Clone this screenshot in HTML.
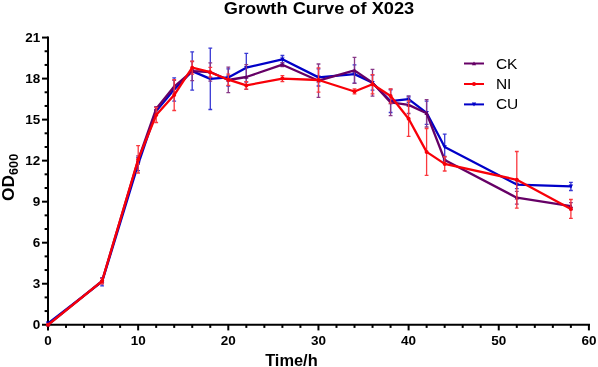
<!DOCTYPE html>
<html><head><meta charset="utf-8"><title>Growth Curve of X023</title>
<style>
html,body{margin:0;padding:0;background:#fff;}
svg{display:block;will-change:transform;font-family:"Liberation Sans",Arial,sans-serif;font-weight:bold;fill:#000;}
</style></head><body>
<svg width="598" height="367" viewBox="0 0 598 367">
<rect width="598" height="367" fill="#fff"/>
<text x="319" y="14.4" font-size="17" text-anchor="middle" textLength="190.5" lengthAdjust="spacingAndGlyphs">Growth Curve of X023</text>
<g stroke="#000" stroke-width="2" fill="none" stroke-linecap="butt">
<path d="M48 36.5V325.8"/>
<path d="M47 324.8H590"/>
<path d="M42 324.75H48"/><path d="M44.6 311.07H48"/><path d="M44.6 297.40H48"/><path d="M42 283.73H48"/><path d="M44.6 270.05H48"/><path d="M44.6 256.38H48"/><path d="M42 242.70H48"/><path d="M44.6 229.02H48"/><path d="M44.6 215.35H48"/><path d="M42 201.68H48"/><path d="M44.6 188.00H48"/><path d="M44.6 174.32H48"/><path d="M42 160.65H48"/><path d="M44.6 146.97H48"/><path d="M44.6 133.30H48"/><path d="M42 119.62H48"/><path d="M44.6 105.95H48"/><path d="M44.6 92.27H48"/><path d="M42 78.60H48"/><path d="M44.6 64.93H48"/><path d="M44.6 51.25H48"/><path d="M42 37.57H48"/>
<path d="M48.00 324.8V330.4"/><path d="M66.03 324.8V327.9"/><path d="M84.06 324.8V327.9"/><path d="M102.09 324.8V327.9"/><path d="M120.12 324.8V327.9"/><path d="M138.15 324.8V330.4"/><path d="M156.18 324.8V327.9"/><path d="M174.21 324.8V327.9"/><path d="M192.24 324.8V327.9"/><path d="M210.27 324.8V327.9"/><path d="M228.30 324.8V330.4"/><path d="M246.33 324.8V327.9"/><path d="M264.36 324.8V327.9"/><path d="M282.39 324.8V327.9"/><path d="M300.42 324.8V327.9"/><path d="M318.45 324.8V330.4"/><path d="M336.48 324.8V327.9"/><path d="M354.51 324.8V327.9"/><path d="M372.54 324.8V327.9"/><path d="M390.57 324.8V327.9"/><path d="M408.60 324.8V330.4"/><path d="M426.63 324.8V327.9"/><path d="M444.66 324.8V327.9"/><path d="M462.69 324.8V327.9"/><path d="M480.72 324.8V327.9"/><path d="M498.75 324.8V330.4"/><path d="M516.78 324.8V327.9"/><path d="M534.81 324.8V327.9"/><path d="M552.84 324.8V327.9"/><path d="M570.87 324.8V327.9"/><path d="M588.90 324.8V330.4"/>
</g>
<g font-size="13.5">
<text x="40.3" y="329.1" text-anchor="end">0</text><text x="40.3" y="288.1" text-anchor="end">3</text><text x="40.3" y="247.1" text-anchor="end">6</text><text x="40.3" y="206.1" text-anchor="end">9</text><text x="40.3" y="165.0" text-anchor="end">12</text><text x="40.3" y="124.0" text-anchor="end">15</text><text x="40.3" y="83.0" text-anchor="end">18</text><text x="40.3" y="42.0" text-anchor="end">21</text>
<text x="48.0" y="344.8" text-anchor="middle">0</text><text x="138.2" y="344.8" text-anchor="middle">10</text><text x="228.3" y="344.8" text-anchor="middle">20</text><text x="318.5" y="344.8" text-anchor="middle">30</text><text x="408.6" y="344.8" text-anchor="middle">40</text><text x="498.8" y="344.8" text-anchor="middle">50</text><text x="588.9" y="344.8" text-anchor="middle">60</text>
</g>
<text x="291.4" y="366.2" font-size="16.4" text-anchor="middle">Time/h</text>
<text transform="translate(13.9,201) rotate(-90) scale(1.055,1)" font-size="16.5">OD<tspan font-size="12" dy="4">600</tspan></text>
<g stroke="#3838d4" stroke-width="1.3" fill="none"><path d="M102.1 277.6V285.8M100.2 277.6h3.8M100.2 285.8h3.8"/><path d="M138.2 157.5V170.6M136.2 157.5h3.8M136.2 170.6h3.8"/><path d="M156.2 107.0V115.2M154.3 107.0h3.8M154.3 115.2h3.8"/><path d="M174.2 77.9V101.2M172.3 77.9h3.8M172.3 101.2h3.8"/><path d="M192.2 51.9V90.2M190.3 51.9h3.8M190.3 90.2h3.8"/><path d="M210.3 48.2V109.5M208.4 48.2h3.8M208.4 109.5h3.8"/><path d="M228.3 68.8V86.0M226.4 68.8h3.8M226.4 86.0h3.8"/><path d="M246.3 53.3V82.0M244.4 53.3h3.8M244.4 82.0h3.8"/><path d="M282.4 55.5V63.1M280.5 55.5h3.8M280.5 63.1h3.8"/><path d="M318.5 68.8V86.0M316.6 68.8h3.8M316.6 86.0h3.8"/><path d="M354.5 64.9V83.2M352.6 64.9h3.8M352.6 83.2h3.8"/><path d="M372.5 75.2V90.2M370.6 75.2h3.8M370.6 90.2h3.8"/><path d="M390.6 89.8V112.5M388.7 89.8h3.8M388.7 112.5h3.8"/><path d="M408.6 96.2V102.3M406.7 96.2h3.8M406.7 102.3h3.8"/><path d="M426.6 101.2V124.4M424.7 101.2h3.8M424.7 124.4h3.8"/><path d="M444.7 134.1V159.8M442.8 134.1h3.8M442.8 159.8h3.8"/><path d="M516.8 180.5V188.7M514.9 180.5h3.8M514.9 188.7h3.8"/><path d="M570.9 182.3V190.5M569.0 182.3h3.8M569.0 190.5h3.8"/></g>
<polyline points="48.0,323.4 102.1,281.7 138.2,164.1 156.2,111.1 174.2,89.5 192.2,71.1 210.3,78.9 228.3,77.4 246.3,67.7 282.4,59.3 318.5,77.4 354.5,74.1 372.5,82.7 390.6,101.2 408.6,99.2 426.6,112.8 444.7,147.0 516.8,184.6 570.9,186.4" fill="none" stroke="#0000c8" stroke-width="2.3" stroke-linejoin="round" stroke-linecap="round"/>
<g fill="#0000c8"><path d="M48.0 325.5l2.2 -3.9h-4.4z"/><path d="M102.1 283.8l2.2 -3.9h-4.4z"/><path d="M138.2 166.2l2.2 -3.9h-4.4z"/><path d="M156.2 113.2l2.2 -3.9h-4.4z"/><path d="M174.2 91.6l2.2 -3.9h-4.4z"/><path d="M192.2 73.2l2.2 -3.9h-4.4z"/><path d="M210.3 81.0l2.2 -3.9h-4.4z"/><path d="M228.3 79.5l2.2 -3.9h-4.4z"/><path d="M246.3 69.8l2.2 -3.9h-4.4z"/><path d="M282.4 61.4l2.2 -3.9h-4.4z"/><path d="M318.5 79.5l2.2 -3.9h-4.4z"/><path d="M354.5 76.2l2.2 -3.9h-4.4z"/><path d="M372.5 84.8l2.2 -3.9h-4.4z"/><path d="M390.6 103.3l2.2 -3.9h-4.4z"/><path d="M408.6 101.3l2.2 -3.9h-4.4z"/><path d="M426.6 114.9l2.2 -3.9h-4.4z"/><path d="M444.7 149.1l2.2 -3.9h-4.4z"/><path d="M516.8 186.7l2.2 -3.9h-4.4z"/><path d="M570.9 188.5l2.2 -3.9h-4.4z"/></g>
<g stroke="#883888" stroke-width="1.3" fill="none"><path d="M102.1 278.3V283.7M100.2 278.3h3.8M100.2 283.7h3.8"/><path d="M138.2 155.9V164.1M136.2 155.9h3.8M136.2 164.1h3.8"/><path d="M156.2 106.6V110.7M154.3 106.6h3.8M154.3 110.7h3.8"/><path d="M174.2 80.4V92.7M172.3 80.4h3.8M172.3 92.7h3.8"/><path d="M192.2 61.5V80.7M190.3 61.5h3.8M190.3 80.7h3.8"/><path d="M210.3 62.9V81.2M208.4 62.9h3.8M208.4 81.2h3.8"/><path d="M228.3 67.2V92.7M226.4 67.2h3.8M226.4 92.7h3.8"/><path d="M246.3 64.7V89.3M244.4 64.7h3.8M244.4 89.3h3.8"/><path d="M282.4 62.6V66.7M280.5 62.6h3.8M280.5 66.7h3.8"/><path d="M318.5 64.0V97.3M316.6 64.0h3.8M316.6 97.3h3.8"/><path d="M354.5 57.4V83.4M352.6 57.4h3.8M352.6 83.4h3.8"/><path d="M372.5 69.3V96.1M370.6 69.3h3.8M370.6 96.1h3.8"/><path d="M390.6 89.1V115.7M388.7 89.1h3.8M388.7 115.7h3.8"/><path d="M408.6 96.2V113.5M406.7 96.2h3.8M406.7 113.5h3.8"/><path d="M426.6 99.7V127.0M424.7 99.7h3.8M424.7 127.0h3.8"/><path d="M444.7 156.5V163.4M442.8 156.5h3.8M442.8 163.4h3.8"/><path d="M516.8 191.3V204.1M514.9 191.3h3.8M514.9 204.1h3.8"/><path d="M570.9 202.6V209.5M569.0 202.6h3.8M569.0 209.5h3.8"/></g>
<polyline points="48.0,324.8 102.1,281.0 138.2,160.0 156.2,108.7 174.2,86.5 192.2,71.1 210.3,72.0 228.3,80.0 246.3,77.0 282.4,64.7 318.5,80.7 354.5,70.4 372.5,82.7 390.6,102.4 408.6,104.9 426.6,113.3 444.7,160.0 516.8,197.7 570.9,206.1" fill="none" stroke="#660066" stroke-width="2.3" stroke-linejoin="round" stroke-linecap="round"/>
<g fill="#660066"><path d="M48.0 322.6l2.2 3.9h-4.4z"/><path d="M102.1 278.9l2.2 3.9h-4.4z"/><path d="M138.2 157.9l2.2 3.9h-4.4z"/><path d="M156.2 106.6l2.2 3.9h-4.4z"/><path d="M174.2 84.4l2.2 3.9h-4.4z"/><path d="M192.2 69.0l2.2 3.9h-4.4z"/><path d="M210.3 69.9l2.2 3.9h-4.4z"/><path d="M228.3 77.9l2.2 3.9h-4.4z"/><path d="M246.3 74.9l2.2 3.9h-4.4z"/><path d="M282.4 62.6l2.2 3.9h-4.4z"/><path d="M318.5 78.6l2.2 3.9h-4.4z"/><path d="M354.5 68.3l2.2 3.9h-4.4z"/><path d="M372.5 80.6l2.2 3.9h-4.4z"/><path d="M390.6 100.3l2.2 3.9h-4.4z"/><path d="M408.6 102.8l2.2 3.9h-4.4z"/><path d="M426.6 111.2l2.2 3.9h-4.4z"/><path d="M444.7 157.9l2.2 3.9h-4.4z"/><path d="M516.8 195.6l2.2 3.9h-4.4z"/><path d="M570.9 204.0l2.2 3.9h-4.4z"/></g>
<g stroke="#fa383e" stroke-width="1.3" fill="none"><path d="M102.1 278.4V283.9M100.2 278.4h3.8M100.2 283.9h3.8"/><path d="M138.2 145.6V173.0M136.2 145.6h3.8M136.2 173.0h3.8"/><path d="M156.2 107.5V122.5M154.3 107.5h3.8M154.3 122.5h3.8"/><path d="M174.2 79.6V110.5M172.3 79.6h3.8M172.3 110.5h3.8"/><path d="M192.2 61.2V74.1M190.3 61.2h3.8M190.3 74.1h3.8"/><path d="M210.3 67.4V77.0M208.4 67.4h3.8M208.4 77.0h3.8"/><path d="M228.3 74.1V85.3M226.4 74.1h3.8M226.4 85.3h3.8"/><path d="M246.3 81.7V89.1M244.4 81.7h3.8M244.4 89.1h3.8"/><path d="M282.4 75.6V81.6M280.5 75.6h3.8M280.5 81.6h3.8"/><path d="M318.5 67.8V92.1M316.6 67.8h3.8M316.6 92.1h3.8"/><path d="M354.5 89.0V93.9M352.6 89.0h3.8M352.6 93.9h3.8"/><path d="M372.5 74.6V93.8M370.6 74.6h3.8M370.6 93.8h3.8"/><path d="M390.6 88.9V103.1M388.7 88.9h3.8M388.7 103.1h3.8"/><path d="M408.6 100.9V136.4M406.7 100.9h3.8M406.7 136.4h3.8"/><path d="M426.6 128.5V175.3M424.7 128.5h3.8M424.7 175.3h3.8"/><path d="M444.7 156.8V171.0M442.8 156.8h3.8M442.8 171.0h3.8"/><path d="M516.8 151.5V208.1M514.9 151.5h3.8M514.9 208.1h3.8"/><path d="M570.9 199.5V218.4M569.0 199.5h3.8M569.0 218.4h3.8"/></g>
<polyline points="48.0,324.8 102.1,281.1 138.2,159.3 156.2,115.0 174.2,95.0 192.2,67.7 210.3,72.2 228.3,79.7 246.3,85.4 282.4,78.6 318.5,80.0 354.5,91.5 372.5,84.2 390.6,96.0 408.6,118.7 426.6,151.9 444.7,163.9 516.8,179.8 570.9,208.9" fill="none" stroke="#f80008" stroke-width="2.3" stroke-linejoin="round" stroke-linecap="round"/>
<g fill="#f80008"><circle cx="48.0" cy="324.8" r="2.0"/><circle cx="102.1" cy="281.1" r="2.0"/><circle cx="138.2" cy="159.3" r="2.0"/><circle cx="156.2" cy="115.0" r="2.0"/><circle cx="174.2" cy="95.0" r="2.0"/><circle cx="192.2" cy="67.7" r="2.0"/><circle cx="210.3" cy="72.2" r="2.0"/><circle cx="228.3" cy="79.7" r="2.0"/><circle cx="246.3" cy="85.4" r="2.0"/><circle cx="282.4" cy="78.6" r="2.0"/><circle cx="318.5" cy="80.0" r="2.0"/><circle cx="354.5" cy="91.5" r="2.0"/><circle cx="372.5" cy="84.2" r="2.0"/><circle cx="390.6" cy="96.0" r="2.0"/><circle cx="408.6" cy="118.7" r="2.0"/><circle cx="426.6" cy="151.9" r="2.0"/><circle cx="444.7" cy="163.9" r="2.0"/><circle cx="516.8" cy="179.8" r="2.0"/><circle cx="570.9" cy="208.9" r="2.0"/></g>
<path d="M464 63.5H484" stroke="#660066" stroke-width="2" fill="none"/><g fill="#660066"><path d="M474.0 61.4l2.2 3.9h-4.4z"/></g><text x="495.9" y="68.5" font-size="15.5" font-weight="normal">CK</text>
<path d="M464 84.0H484" stroke="#f80008" stroke-width="2" fill="none"/><g fill="#f80008"><circle cx="474.0" cy="84.0" r="2.0"/></g><text x="495.9" y="89.0" font-size="15.5" font-weight="normal">NI</text>
<path d="M464 104.4H484" stroke="#0000c8" stroke-width="2" fill="none"/><g fill="#0000c8"><path d="M474.0 106.5l2.2 -3.9h-4.4z"/></g><text x="495.9" y="109.4" font-size="15.5" font-weight="normal">CU</text>
</svg>
</body></html>
